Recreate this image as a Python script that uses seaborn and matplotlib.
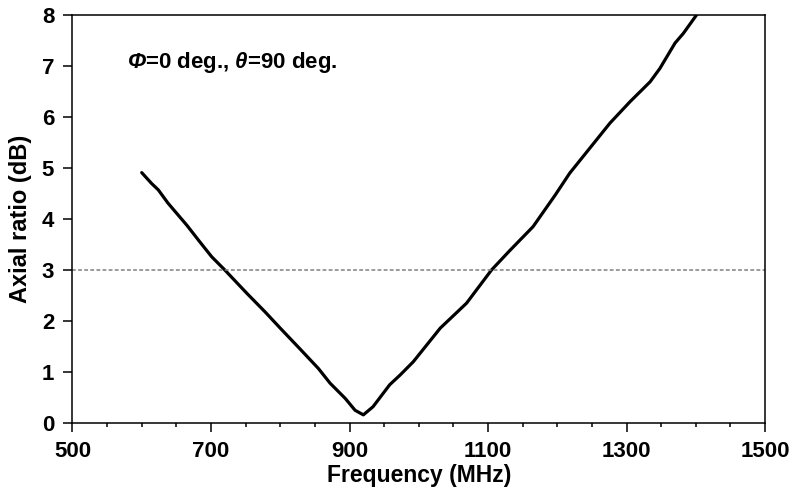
import numpy as np
import pandas as pd
import matplotlib
matplotlib.use("Agg")
import matplotlib.pyplot as plt
import seaborn as sns
from matplotlib.ticker import MultipleLocator

# data
freq_mhz = [600, 614, 624, 638, 665, 684, 701, 720, 752, 778, 800, 828, 855,
            872, 894, 908, 920, 934, 958, 973, 992, 1031, 1069, 1105, 1132,
            1165, 1197, 1218, 1247, 1276, 1305, 1334, 1348, 1370, 1382, 1401]
axial_ratio = [4.91, 4.70, 4.57, 4.31, 3.88, 3.55, 3.26, 3.00, 2.54, 2.18,
               1.86, 1.46, 1.07, 0.78, 0.48, 0.25, 0.16, 0.32, 0.75, 0.94,
               1.20, 1.86, 2.35, 3.00, 3.39, 3.85, 4.47, 4.90, 5.39, 5.88,
               6.30, 6.69, 6.95, 7.45, 7.64, 8.00]
ar_limit = 3
x_ticks = [500, 700, 900, 1100, 1300, 1500]
y_ticks = [0, 1, 2, 3, 4, 5, 6, 7, 8]

df = pd.DataFrame({"Frequency": freq_mhz, "AR": axial_ratio})

sns.set_style("ticks")
plt.rcParams["font.family"] = ["Liberation Sans", "DejaVu Sans"]
plt.rcParams["font.weight"] = "bold"
plt.rcParams["text.color"] = "black"
plt.rcParams["axes.labelcolor"] = "black"
plt.rcParams["xtick.color"] = "black"
plt.rcParams["ytick.color"] = "black"
plt.rcParams["mathtext.fontset"] = "custom"
plt.rcParams["mathtext.rm"] = "Liberation Sans:bold"
plt.rcParams["mathtext.bfit"] = "Liberation Sans:italic:bold"

fig = plt.figure(figsize=(7.92, 4.94), dpi=100)
ax = fig.add_axes([0.0915, 0.1437, 0.8745, 0.8259])

sns.lineplot(data=df, x="Frequency", y="AR", ax=ax, color="black",
             linewidth=2.3, sort=False)
ax.axhline(ar_limit, color="#808080", linestyle=(0, (2.5, 1.5)), linewidth=1.1)

ax.set_xlim(500, 1500)
ax.set_ylim(0, 8)
ax.set_xticks(x_ticks)
ax.xaxis.set_minor_locator(MultipleLocator(50))
ax.set_yticks(y_ticks)

ax.tick_params(axis="both", which="major", direction="out", length=6.2,
               width=1.1, labelsize=16, pad=7)
ax.tick_params(axis="x", which="minor", direction="out", length=3, width=1.1)
for label in ax.get_xticklabels() + ax.get_yticklabels():
    label.set_fontweight("bold")

for side in ["left", "right", "top", "bottom"]:
    ax.spines[side].set_visible(True)
    ax.spines[side].set_linewidth(1.1)
    ax.spines[side].set_color("black")

ax.set_xlabel("Frequency (MHz)", fontsize=16.5, fontweight="bold", labelpad=1)
ax.set_ylabel("Axial ratio (dB)", fontsize=17, fontweight="bold", labelpad=7)

ax.text(579, 7.06, r"$\mathbfit{\Phi}$=0 deg., $\mathbfit{\theta}$=90 deg.",
        fontsize=16, fontweight="bold", va="center", ha="left")

fig.savefig("out.png", dpi=100)
